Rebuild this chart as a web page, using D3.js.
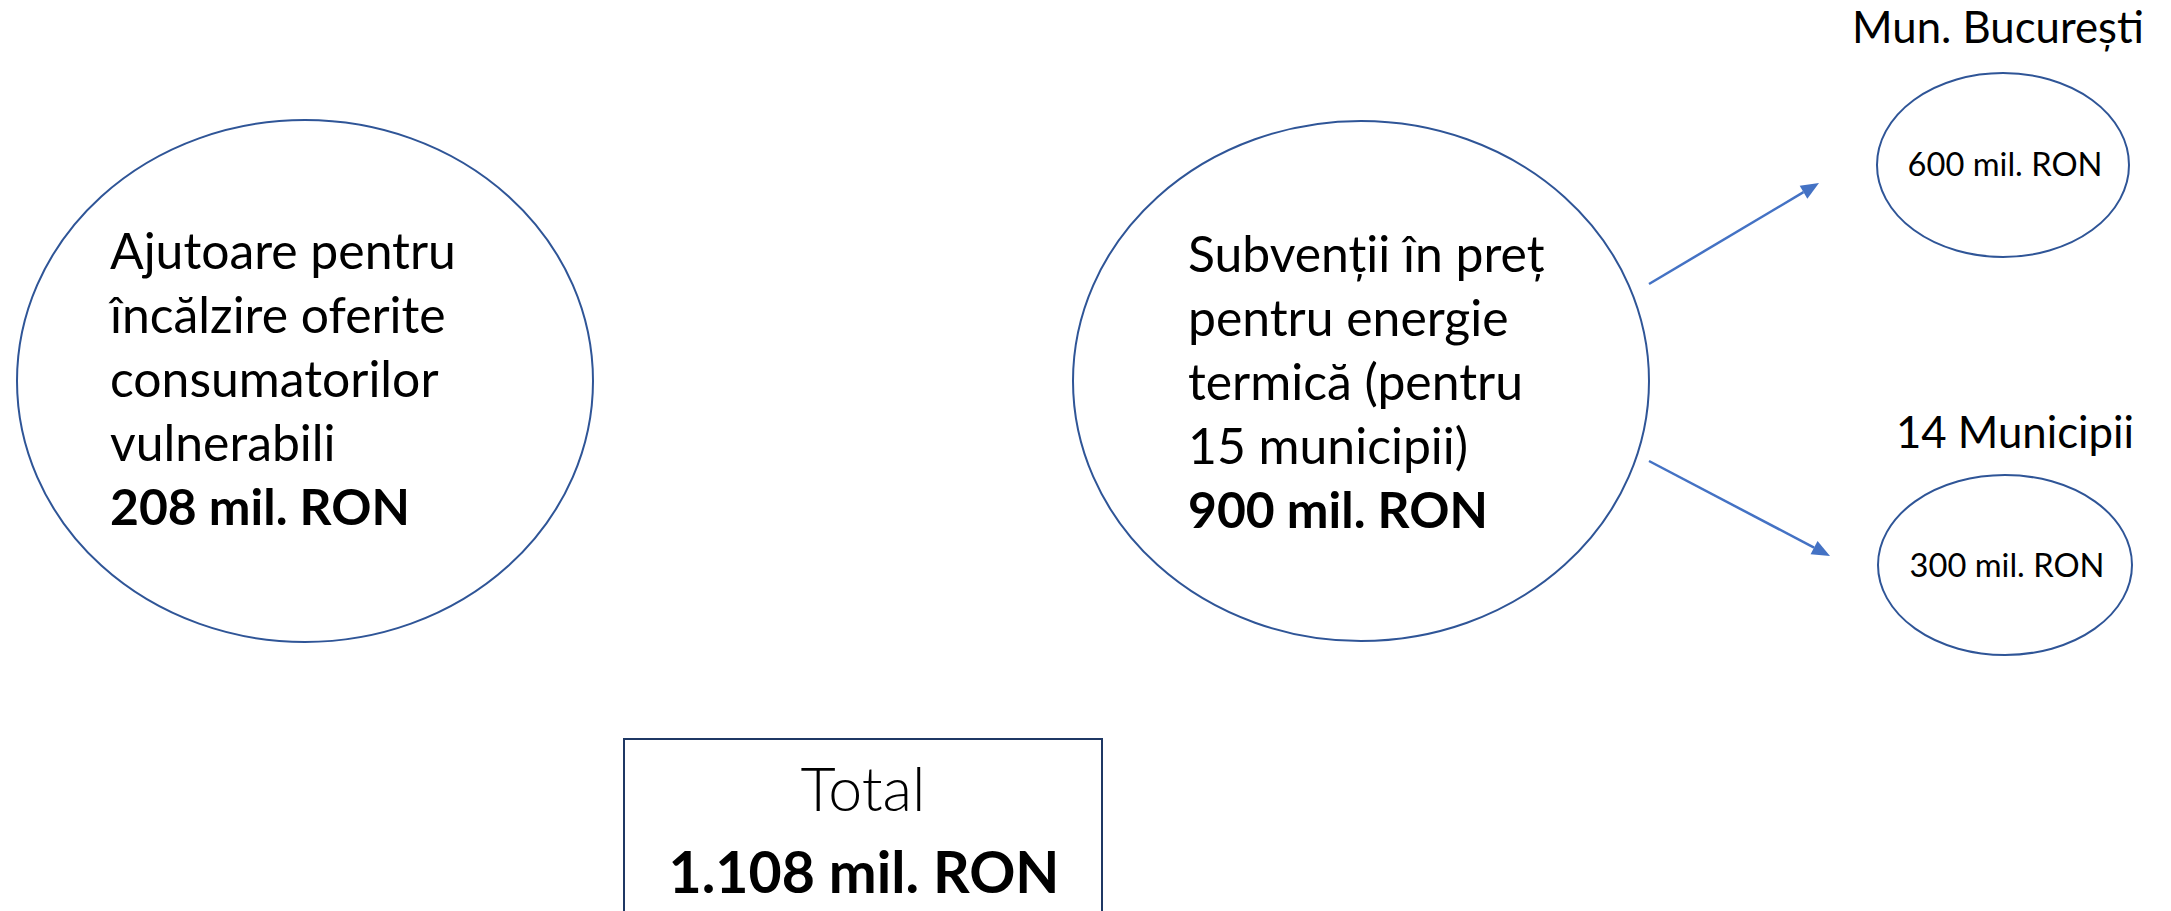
<!DOCTYPE html>
<html>
<head>
<meta charset="utf-8">
<script src="https://cdn.jsdelivr.net/npm/d3@7"></script>
<style>
  html, body { margin: 0; padding: 0; background: #ffffff; }
  svg { display: block; }
  text { font-family: Lato, "Open Sans", "Noto Sans", sans-serif; fill: #000; }
</style>
</head>
<body>
<script>
// ---------------- DATA ----------------
const mainCategories = [
  ["Ajutoare pentru", "încălzire oferite", "consumatorilor", "vulnerabili"],
  ["Subvenții în preț", "pentru energie", "termică (pentru", "15 municipii)"]
];
const mainValues = [208, 900];
const subCategories = ["Mun. București", "14 Municipii"];
const subValues = [600, 300];
const totalLabel = "Total";
const totalValue = 1108;
const unit = "mil. RON";

// ---------------- SETUP ----------------
const W = 2171, H = 911;
const svg = d3.select("body").append("svg").attr("width", W).attr("height", H);

const ro = d3.formatLocale({ decimal: ",", thousands: ".", grouping: [3], currency: ["", " RON"] });
const fmt = v => ro.format(",d")(v) + " " + unit;

const ELLIPSE_STROKE = "#2F5597";
const ARROW_COLOR = "#4472C4";
const BOX_STROKE = "#1F3864";

// layout (positions only)
const mainLayout = [
  { cx: 305, cy: 381, rx: 288, ry: 261, tx: 110, ty: 269 },
  { cx: 1361, cy: 381, rx: 288, ry: 260, tx: 1188, ty: 272 }
];
const subLayout = [
  { cx: 2003, cy: 165, rx: 126, ry: 92, labelY: 43, valueY: 176 },
  { cx: 2005, cy: 565, rx: 127, ry: 90, labelY: 448, valueY: 577 }
];
const arrows = [
  { x1: 1649, y1: 284, x2: 1819, y2: 183 },
  { x1: 1649, y1: 461, x2: 1830, y2: 556 }
];
const LINE_H = 64;

// font fitting helper: choose size so that sample text has target width
function fitSize(sample, target, weight) {
  const t = svg.append("text").attr("font-size", 100).attr("font-weight", weight || 400).text(sample);
  const w = t.node().getComputedTextLength();
  t.remove();
  return 100 * target / w;
}
const mainSize = fitSize("Ajutoare pentru", 346);
const labelSize = fitSize("Mun. București", 292);
const smallSize = fitSize("600 mil. RON", 195);
const totalSize = fitSize("1.108 mil. RON", 391, 700);
const totalLabelSize = fitSize("Total", 125, 300);

// ---------------- MAIN ELLIPSES ----------------
const mainG = svg.selectAll("g.main")
  .data(mainCategories.map((lines, i) => ({ lines, value: mainValues[i], ...mainLayout[i] })))
  .enter().append("g").attr("class", "main");

mainG.append("ellipse")
  .attr("cx", d => d.cx).attr("cy", d => d.cy)
  .attr("rx", d => d.rx).attr("ry", d => d.ry)
  .attr("fill", "#fff").attr("stroke", ELLIPSE_STROKE).attr("stroke-width", 2);

mainG.each(function(d) {
  const g = d3.select(this);
  const allLines = d.lines.map(l => ({ text: l, bold: false }))
    .concat([{ text: fmt(d.value), bold: true }]);
  g.selectAll("text").data(allLines).enter().append("text")
    .attr("x", d.tx)
    .attr("y", (l, i) => d.ty + i * LINE_H)
    .attr("font-size", mainSize)
    .attr("font-weight", l => l.bold ? 700 : 400)
    .text(l => l.text);
});

// ---------------- SUB ELLIPSES ----------------
const subG = svg.selectAll("g.sub")
  .data(subCategories.map((name, i) => ({ name, value: subValues[i], ...subLayout[i] })))
  .enter().append("g").attr("class", "sub");

subG.append("ellipse")
  .attr("cx", d => d.cx).attr("cy", d => d.cy)
  .attr("rx", d => d.rx).attr("ry", d => d.ry)
  .attr("fill", "#fff").attr("stroke", ELLIPSE_STROKE).attr("stroke-width", 2);

subG.append("text")
  .attr("x", d => d.cx + (d.name === "14 Municipii" ? 10 : -5))
  .attr("y", d => d.labelY)
  .attr("text-anchor", "middle")
  .attr("font-size", labelSize)
  .text(d => d.name);

subG.append("text")
  .attr("x", d => d.cx + 2)
  .attr("y", d => d.valueY)
  .attr("text-anchor", "middle")
  .attr("font-size", smallSize)
  .text(d => fmt(d.value));

// ---------------- ARROWS ----------------
const headLen = 18, headW = 15;
const arrowG = svg.selectAll("g.arrow").data(arrows).enter().append("g").attr("class", "arrow");
arrowG.each(function(a) {
  const g = d3.select(this);
  const ang = Math.atan2(a.y2 - a.y1, a.x2 - a.x1);
  const bx = a.x2 - headLen * Math.cos(ang), by = a.y2 - headLen * Math.sin(ang);
  g.append("line")
    .attr("x1", a.x1).attr("y1", a.y1).attr("x2", bx).attr("y2", by)
    .attr("stroke", ARROW_COLOR).attr("stroke-width", 2.5);
  const px = -Math.sin(ang) * headW / 2, py = Math.cos(ang) * headW / 2;
  g.append("path")
    .attr("d", d3.line()([[a.x2, a.y2], [bx + px, by + py], [bx - px, by - py]]) + "Z")
    .attr("fill", ARROW_COLOR);
});

// ---------------- TOTAL BOX ----------------
const box = { x: 624, y: 739, w: 478, h: 300 };
svg.append("rect")
  .attr("x", box.x).attr("y", box.y).attr("width", box.w).attr("height", box.h)
  .attr("fill", "#fff").attr("stroke", BOX_STROKE).attr("stroke-width", 2);

svg.append("text")
  .attr("x", box.x + box.w / 2).attr("y", 811)
  .attr("text-anchor", "middle")
  .attr("font-size", totalLabelSize)
  .attr("font-weight", 300)
  .text(totalLabel);

svg.append("text")
  .attr("x", box.x + box.w / 2 + 1).attr("y", 893)
  .attr("text-anchor", "middle")
  .attr("font-size", totalSize)
  .attr("font-weight", 700)
  .text(fmt(totalValue));
</script>
</body>
</html>
